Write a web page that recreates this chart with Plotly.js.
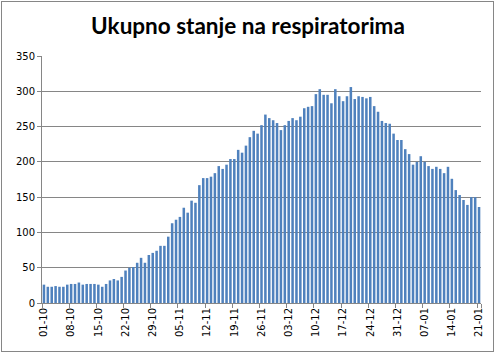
<!DOCTYPE html>
<html>
<head>
<meta charset="utf-8">
<script src="https://cdn.plot.ly/plotly-3.0.1.min.js"></script>
<style>
  html, body { margin: 0; padding: 0; background: #fff; }
  #wrap { position: relative; width: 496px; height: 353px; }
  #chart { position: absolute; left: 0; top: 0; width: 496px; height: 353px; }
  #frame { position: absolute; left: 1px; top: 1px; width: 491px; height: 349px;
           border: 1px solid #868686; pointer-events: none; }
</style>
</head>
<body>
<div id="wrap"><div id="chart"></div><div id="frame"></div></div>
<script>
const dates = [
  "01-10","02-10","03-10","04-10","05-10","06-10","07-10","08-10","09-10","10-10",
  "11-10","12-10","13-10","14-10","15-10","16-10","17-10","18-10","19-10","20-10",
  "21-10","22-10","23-10","24-10","25-10","26-10","27-10","28-10","29-10","30-10","31-10",
  "01-11","02-11","03-11","04-11","05-11","06-11","07-11","08-11","09-11","10-11",
  "11-11","12-11","13-11","14-11","15-11","16-11","17-11","18-11","19-11","20-11",
  "21-11","22-11","23-11","24-11","25-11","26-11","27-11","28-11","29-11","30-11",
  "01-12","02-12","03-12","04-12","05-12","06-12","07-12","08-12","09-12","10-12",
  "11-12","12-12","13-12","14-12","15-12","16-12","17-12","18-12","19-12","20-12",
  "21-12","22-12","23-12","24-12","25-12","26-12","27-12","28-12","29-12","30-12","31-12",
  "01-01","02-01","03-01","04-01","05-01","06-01","07-01","08-01","09-01","10-01",
  "11-01","12-01","13-01","14-01","15-01","16-01","17-01","18-01","19-01","20-01","21-01"
];
const respirators = [
  26,23,23,24,23,23,26,27,27,29,26,27,27,27,26,23,27,32,34,32,37,46,50,51,57,64,57,68,71,74,81,
  81,94,113,118,122,135,128,145,142,167,177,177,179,184,194,190,196,204,204,217,213,223,235,244,240,252,267,262,259,255,
  245,252,258,262,259,264,276,278,279,296,303,295,295,283,303,293,286,293,306,289,293,292,290,292,279,271,258,255,254,240,231,
  231,218,211,196,200,208,200,194,190,193,190,184,193,176,160,153,146,139,150,150,136
];
const tickLabels = ["01-10","08-10","15-10","22-10","29-10","05-11","12-11","19-11","26-11",
  "03-12","10-12","17-12","24-12","31-12","07-01","14-01","21-01"];
const yTicks = [0,50,100,150,200,250,300,350];
const titleText = "Ukupno stanje na respiratorima";

const gray = "#868686";
Plotly.newPlot("chart", [{
  type: "bar",
  x: dates,
  y: respirators,
  marker: { color: "#4F81BD", line: { width: 0 } },
  hoverinfo: "x+y"
}], {
  width: 496, height: 353,
  margin: { l: 42, r: 15, t: 56, b: 50, pad: 0 },
  paper_bgcolor: "#fff", plot_bgcolor: "#fff",
  bargap: 0.35,
  showlegend: false,
  title: {
    text: "<b>" + titleText + "</b>",
    font: { family: "Lato, Carlito, 'Liberation Sans', sans-serif", size: 22.5, color: "#000" },
    x: 0.5, xanchor: "center", xref: "container",
    y: 1 - 26/353, yanchor: "middle", yref: "container"
  },
  xaxis: {
    type: "category",
    tickmode: "array", tickvals: tickLabels, ticktext: tickLabels,
    tickangle: -90, tickson: "boundaries",
    ticks: "outside", ticklen: 4, tickcolor: gray, tickwidth: 1,
    showline: true, linecolor: gray, linewidth: 1,
    showgrid: false, zeroline: false,
    range: [-0.5, dates.length - 0.5],
    tickfont: { family: "'DejaVu Sans', sans-serif", size: 10, color: "#000" },
    fixedrange: true
  },
  yaxis: {
    range: [0, 350],
    tickmode: "array", tickvals: yTicks,
    ticks: "outside", ticklen: 4, tickcolor: gray, tickwidth: 1,
    showline: true, linecolor: gray, linewidth: 1,
    showgrid: true, gridcolor: gray, gridwidth: 1,
    zeroline: false,
    tickfont: { family: "'DejaVu Sans', sans-serif", size: 10, color: "#000" },
    fixedrange: true
  }
}, { displayModeBar: false, staticPlot: true });
</script>
</body>
</html>
